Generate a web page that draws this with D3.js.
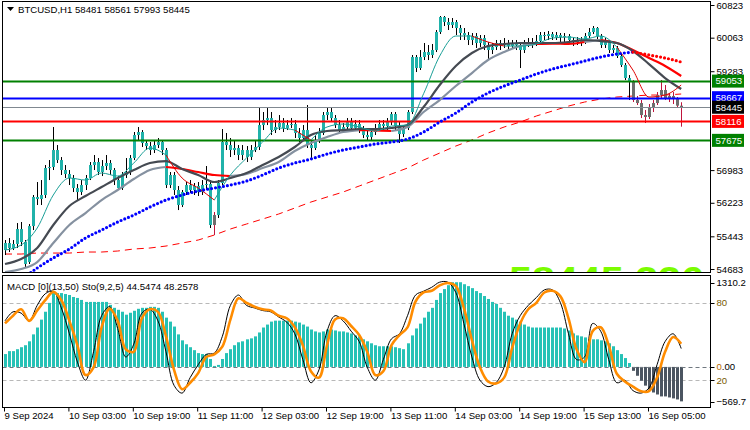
<!DOCTYPE html>
<html><head><meta charset="utf-8">
<script src="https://cdn.jsdelivr.net/npm/d3@7"></script>
<style>
body{margin:0;background:#fff}
svg{display:block}
text{font-family:"Liberation Sans",Arial,sans-serif}
</style>
</head><body>
<svg id="c" width="750" height="430"></svg>
<script>
// ---------------- DATA ----------------
const symbolTitle = "BTCUSD,H1  58481 58561 57993 58445";
const subTitle = "MACD [0](13,50)  Sto(9,2,5) 44.5474 48.2578";

// OHLC per hourly bar: [open, high, low, close]
const candles = [
[55124,55357,55008,55287],[55287,55403,55078,55171],[55171,55357,55124,55264],[55264,55752,55171,55613],[55613,55776,55217,55310],
[55310,55357,54706,54799],[54845,55729,54799,55682],[55682,56404,55589,56357],[56357,56706,56171,56311],[56311,56752,56171,56404],
[56404,57101,56334,57031],[57031,57217,56752,57055],[57055,57985,56985,57450],[57450,57566,57148,57217],[57217,57287,56869,56985],
[56985,57101,56799,56892],[56892,56985,56636,56799],[56799,56869,56473,56566],[56566,56659,56287,56473],[56473,56752,56404,56636],
[56636,56869,56520,56799],[56799,57171,56752,57101],[57101,57334,56985,57171],[57171,57264,56869,56938],[56938,57217,56845,57078],
[57078,57334,56985,57148],[57148,57217,56869,56985],[56985,57031,56636,56752],[56752,56845,56520,56566],[56566,56938,56520,56869],
[56869,57264,56799,56938],[56938,57334,56869,57264],[57264,57869,57217,57799],[57799,57985,57683,57869],[57869,57915,57520,57613],
[57613,57683,57450,57543],[57543,57636,57334,57450],[57450,57683,57380,57566],[57566,57729,57497,57636],[57636,57683,57334,57450],
[57450,57497,56566,56636],[56636,56938,56566,56869],[56869,56938,56404,56520],[56520,56613,56054,56171],[56171,56520,56124,56473],
[56473,56706,56404,56636],[56636,56752,56450,56520],[56520,56683,56404,56613],[56613,56706,56380,56473],[56473,56752,56404,56636],
[56636,57078,56520,56659],[56659,56752,55636,55706],[55706,56008,55473,55938],[55938,56752,55869,56683],[56683,57939,56636,57636],
[57636,57846,57450,57566],[57566,57729,57287,57450],[57450,57683,57334,57497],[57497,57566,57217,57334],[57334,57566,57217,57450],
[57450,57543,57171,57287],[57287,57566,57217,57450],[57450,57683,57403,57520],[57520,58427,57450,58031],[58031,58334,57915,58148],
[58148,58427,58031,58194],[58194,58334,57799,57915],[57915,58148,57846,57985],[57985,58264,57915,58078],[58078,58194,57869,57962],
[57962,58148,57915,58031],[58031,58194,57962,58055],[58055,58148,57729,57846],[57846,57962,57636,57729],[57729,58031,57683,57915],
[57915,58497,57497,57566],[57566,57683,57264,57497],[57497,57799,57450,57683],[57683,57962,57613,57846],[57846,58334,57799,58264],
[58264,58427,58148,58334],[58334,58427,58101,58194],[58194,58264,57962,58031],[58031,58148,57846,57915],[57915,58078,57846,57985],
[57985,58194,57915,58101],[58101,58194,57869,57962],[57962,58148,57915,58055],[58055,58148,57846,57915],[57915,58008,57729,57799],
[57799,57915,57683,57752],[57752,57962,57683,57869],[57869,58055,57799,57962],[57962,58148,57915,58055],[58055,58148,57915,58008],
[58008,58194,57915,58101],[58101,58334,58031,58287],[58287,58334,57915,58008],[58008,58101,57613,57822],[57822,58031,57752,57962],
[57962,58380,57915,58334],[58334,59660,58287,59613],[59613,59660,59264,59357],[59357,59776,59311,59613],[59613,59939,59543,59729],
[59729,59892,59543,59660],[59660,59916,59590,59776],[59776,60241,59729,60195],[60195,60567,60148,60544],[60544,60567,60334,60427],
[60427,60520,60241,60358],[60358,60520,60288,60427],[60427,60474,60125,60288],[60288,60358,60009,60171],[60171,60288,60009,60125],
[60125,60195,59892,60009],[60009,60171,59892,60102],[60102,60171,59823,59939],[59939,60125,59846,60055],[60055,60125,59776,59892],
[59892,59962,59543,59776],[59776,59939,59683,59846],[59846,60009,59776,59939],[59939,60009,59776,59892],[59892,60055,59823,59939],
[59939,60009,59776,59869],[59869,60009,59823,59939],[59939,60009,59776,59892],[59892,59962,59357,59776],[59776,60009,59706,59916],
[59916,60055,59846,59962],[59962,60055,59823,59916],[59916,60125,59869,59985],[59985,60195,59916,60125],[60125,60195,60009,60102],
[60102,60218,60009,60148],[60148,60195,60009,60078],[60078,60195,60009,60125],[60125,60171,59962,60078],[60078,60171,59962,60102],
[60102,60148,59916,60009],[60009,60078,59869,59962],[59962,60078,59892,60009],[60009,60078,59869,59962],[59962,60171,59916,60102],
[60102,60288,60055,60195],[60195,60334,60148,60288],[60288,60311,60032,60102],[60102,60148,59823,59892],[59892,60055,59823,59962],
[59962,60009,59706,59776],[59776,59892,59706,59823],[59823,59869,59590,59636],[59636,59683,59381,59427],[59427,59474,59078,59125],
[59125,59194,58613,59032],[59032,59078,58566,58613],[58613,58706,58497,58543],[58543,58613,58194,58264],[58264,58380,58078,58218],
[58218,58520,58171,58427],[58427,58613,58334,58543],[58543,58799,58497,58729],[58729,59078,58660,58846],[58846,58962,58613,58660],
[58660,58776,58566,58706],[58706,58799,58520,58636],[58636,58683,58427,58481],[58481,58561,57993,58445]
];
// bars drawn in the "weak" colour (gray body, crimson wick)
const weakBars = [52,156,157,158,159,160,161,162,163,164,165,166,167,168];

// moving averages, one value every 4 bars (bar 0,4,...,168)
const maStep = 4;
const fastMA = [55124,55241,55636,56404,56799,56752,56915,56845,57148,57497,
  57334,56799,56566,56287,56869,57264,57636,57962,57915,57683,
  57985,58055,57985,57892,58008,58031,58760,59636,60102,60102,
  59962,59869,59869,59916,60055,60078,60032,60102,59846,59311,
  58683,58729,58962];
const fastTrend = [1,1,1,1,1,1,1,1,1,1, -1,-1,-1,1,1,1,1,1,-1,1, 1,1,1,1,1,1,1,1,1,-1, -1,1,1,1,1,1,1,1,-1,-1, -1,-1,-1];
const darkMA = [54799,54915,55171,55706,56147,56380,56590,56799,56985,57148,
  57194,57008,56869,56706,56799,56915,57101,57287,57520,57799,
  57892,57915,57939,57939,57962,58031,58450,58962,59404,59706,
  59869,59916,59939,59939,59939,59962,60009,59985,59939,59753,
  59450,59125,58869];
const lightMA = [54612,54682,54845,55287,55706,55985,56287,56520,56776,56985,
  57055,57008,56938,56869,56845,56892,57031,57171,57427,57613,
  57752,57869,57915,57904,57892,57985,58334,58613,58939,59241,
  59543,59729,59869,59916,59927,59916,59962,60009,59939,59776,
  59590,59404,59171];
const lightTrend = [1,1,1,1,1,1,1,1,1,1, -1,-1,-1,-1,1,1,1,1,1,1, 1,1,-1,-1,1,1,1,1,1,1, 1,1,1,-1,-1,-1,1,-1,-1,-1, -1,-1,-1];
const dotMA = [54147,54427,54706,54939,55148,55403,55589,55776,55938,56124,
  56287,56404,56497,56566,56636,56729,56869,57031,57148,57241,
  57357,57450,57520,57590,57636,57706,57869,58101,58311,58566,
  58776,58939,59078,59218,59334,59427,59520,59613,59683,59729,
  59660,59590,59497];
const dotTrend = [1,1,1,1,1,1,1,1,1,1, 1,1,1,1,1,1,1,1,1,1, 1,1,1,1,1,1,1,1,1,1, 1,1,1,1,1,1,1,1,1,-1, -1,-1,-1];
const slowMA = [55031,55031,55054,55054,55054,55078,55078,55101,55148,55171,
  55217,55287,55357,55473,55613,55729,55845,55962,56101,56240,
  56357,56473,56613,56752,56892,57031,57217,57380,57543,57683,
  57846,57985,58101,58241,58357,58473,58566,58636,58683,58706,
  58729,58729,58753];

// horizontal levels
const levelValues = [59053, 58667, 58445, 58116, 57675];
const levelNames = ["r2","r1","last","s1","s2"];
// price axis ticks
const priceTicks = [60823, 60063, 59283, 56983, 56223, 55443, 54683];

// MACD histogram (one per bar)
const macdHist = [
187,230,230,258,287,316,373,474,574,689,
804,933,1076,1076,1076,1062,1048,1019,1005,976,
947,947,947,947,947,947,904,861,832,804,
761,789,818,847,861,861,875,875,861,804,
718,660,588,474,387,330,287,244,201,187,
187,115,14,29,115,201,258,316,359,373,
402,416,445,502,574,617,660,674,674,674,
674,674,660,646,617,588,545,517,502,517,
545,545,531,517,517,502,488,459,445,402,
373,344,316,301,301,301,301,287,273,258,
344,459,560,631,718,804,861,976,1076,1134,
1191,1234,1234,1234,1205,1177,1148,1105,1076,1033,
990,947,918,861,804,746,718,689,660,617,
588,574,574,574,574,574,574,574,574,560,
531,488,459,445,430,402,402,402,387,373,
344,301,244,187,129,57,-57,-129,-201,-273,
-330,-373,-402,-430,-430,-445,-459,-474,-502];
const macdMax = 1310.2, macdMin = -569.7;

// Stochastic, one value every 2 bars
const stochStep = 2;
const stochSignal = [64,70,75,66,74,82,88.5,82,66,47,
 24,30,61,75.5,66,44,42,68,75,73,
 54,28,13,18,25.5,38,40,46,67,83.5,
 80,77,75,74,70,68,61,47,27,22,
 47,67,68,62,55,42,24,27,47,55,
 61,81,88,89.3,93.5,95.4,93,76,51,30,
 19,17.5,22,45,64,75,80,88,89.3,85,
 68,44,34,58,61,47,25,19,15,11.5,
 11.5,22,42,53.5,48.26];
const stochMain = [66,73,72,66,78,87,89,76,56,34,
 20,42,70,77,60,38,48,72,75,66,
 42,16,10,22,32,40,41,54,78,86,
 78,76,74,73,69,65,56,36,18,28,
 58,70,66,58,50,30,20,36,52,56,
 70,86,89,92,96,96,88,64,38,20,
 15,18,30,56,70,78,84,90,90,80,
 56,36,38,64,58,36,18,20,12,10,
 14,32,50,56,44.55];
const stochLevels = [80, 20];

// time axis
const timeLabels = ["9 Sep 2024","10 Sep 03:00","10 Sep 19:00","11 Sep 11:00","12 Sep 03:00","12 Sep 19:00","13 Sep 11:00","14 Sep 03:00","14 Sep 19:00","15 Sep 13:00","16 Sep 05:00"];
const timeTickBars = [0,16,32,48,64,80,96,112,128,144,160];

const bigPriceText = "58445.336";

// ---------------- LAYOUT / STYLE ----------------
const svg = d3.select("#c");
const L = 2.5, R = 710.5, mainT = 1.5, mainB = 272.5, subT = 275.5, subB = 407.5;
const COL = {teal:"#20b2aa", hist:"#26c2b6", weak:"#6e6e6e", weakWick:"#c0143c", neg:"#4b5561",
  dark:"#454a52", light:"#8591a0", red:"#ff0000", blue:"#0000ff", green:"#008000", stoch:"#ff8c00"};
const levelColors = {r2:COL.green, r1:COL.blue, last:"#808890", s1:COL.red, s2:COL.green};
const levelLabelBg = {r2:COL.green, r1:COL.blue, last:"#000000", s1:COL.red, s2:COL.green};

const nBars = candles.length;
const x = d3.scaleLinear().domain([0, nBars-1]).range([5, 5 + 4.025*(nBars-1)]);
const y = d3.scaleLinear().domain([54683, 60823]).range([269, 5]);
const yM = d3.scaleLinear().domain([macdMin, macdMax]).range([406, 277]);
const yS = d3.scaleLinear().domain([0, 100]).range([406, 277]);

const defs = svg.append("defs");
defs.append("clipPath").attr("id","clipMain").append("rect").attr("x",L+0.5).attr("y",mainT+0.5).attr("width",R-L-1).attr("height",mainB-mainT-1);
defs.append("clipPath").attr("id","clipSub").append("rect").attr("x",L+0.5).attr("y",subT+0.5).attr("width",R-L-1).attr("height",subB-subT-1);

const gMain = svg.append("g").attr("clip-path","url(#clipMain)");
const gSub = svg.append("g").attr("clip-path","url(#clipSub)");

// big background price text (mostly hidden under the sub-window)
gMain.append("text").attr("x",509).attr("y",293).attr("fill","#7cfc00")
  .attr("font-size",36).attr("font-weight","bold")
  .attr("textLength",195).attr("lengthAdjust","spacingAndGlyphs").text(bigPriceText);

// slow dashed MA
const maPts = arr => arr.map((v,k)=>({i:k*maStep, v, k}));
gMain.append("path").datum(maPts(slowMA))
  .attr("d", d3.line().x(d=>x(d.i)).y(d=>y(d.v)))
  .attr("fill","none").attr("stroke",COL.red).attr("stroke-width",1).attr("stroke-dasharray","7,5");

// candles
const cg = gMain.append("g");
candles.forEach((c,i)=>{
  const [o,h,l,cl] = c;
  const weak = weakBars.includes(i);
  const cx = Math.round(x(i)) + 0.5;
  cg.append("line").attr("x1",cx).attr("x2",cx).attr("y1",y(h)).attr("y2",y(l))
    .attr("stroke", weak?COL.weakWick:"#000").attr("stroke-width",1);
  const top = Math.min(y(o),y(cl)), bot = Math.max(y(o),y(cl));
  cg.append("rect").attr("x",cx-1.5).attr("y",top).attr("width",3).attr("height",Math.max(1,bot-top))
    .attr("fill", weak?COL.weak:COL.teal);
});

// horizontal levels
levelValues.forEach((v,k)=>{
  const nm = levelNames[k];
  gMain.append("line").attr("x1",L).attr("x2",R).attr("y1",Math.round(y(v))+0.5).attr("y2",Math.round(y(v))+0.5)
    .attr("stroke",levelColors[nm]).attr("stroke-width", nm==="last"?1:2);
});

// coloured MA lines, split into runs by trend
function drawTrendLine(vals, trend, upColor, downColor, width, dash, cap){
  const pts = maPts(vals);
  let runs = [], cur = null;
  for (let k=0;k<pts.length-1;k++){
    const col = trend[k] < 0 ? downColor : upColor;
    if (!cur || cur.col !== col){ cur = {col, pts:[pts[k]]}; runs.push(cur); }
    cur.pts.push(pts[k+1]);
  }
  runs.forEach(r=>{
    if (!r.col) return;
    gMain.append("path").datum(r.pts)
      .attr("d", d3.line().x(d=>x(d.i)).y(d=>y(d.v)).curve(d3.curveMonotoneX))
      .attr("fill","none").attr("stroke",r.col).attr("stroke-width",width)
      .attr("stroke-dasharray",dash||null).attr("stroke-linecap",cap||"butt");
  });
}
drawTrendLine(lightMA, lightTrend, COL.light, COL.red, 2.2);
drawTrendLine(darkMA, darkMA.map(()=>1), COL.dark, COL.dark, 2.2);
drawTrendLine(fastMA, fastTrend, "#1a9f97", "#e00000", 1);
drawTrendLine(dotMA, dotTrend, COL.blue, COL.red, 3.2, "0,4.02", "round");

// ---------- sub window ----------
stochLevels.forEach(v=>{
  gSub.append("line").attr("x1",L).attr("x2",R).attr("y1",Math.round(yS(v))+0.5).attr("y2",Math.round(yS(v))+0.5)
    .attr("stroke","#b8b8b8").attr("stroke-dasharray","4,3");
});
macdHist.forEach((v,i)=>{
  const cx = Math.round(x(i)) + 0.5;
  const y0 = yM(0), y1 = yM(v);
  gSub.append("rect").attr("x",cx-1.5).attr("width",3)
    .attr("y",Math.min(y0,y1)).attr("height",Math.max(1,Math.abs(y1-y0)))
    .attr("fill", v>=0?COL.hist:COL.neg);
});
gSub.append("line").attr("x1",L).attr("x2",R).attr("y1",Math.round(yM(0))+0.5).attr("y2",Math.round(yM(0))+0.5)
  .attr("stroke","#707880").attr("stroke-dasharray","4,3");
const stPts = arr => arr.map((v,k)=>({i:k*stochStep, v}));
const stLine = d3.line().x(d=>x(d.i)).y(d=>yS(d.v)).curve(d3.curveCatmullRom.alpha(0.5));
gSub.append("path").datum(stPts(stochMain)).attr("d",stLine).attr("fill","none").attr("stroke","#000").attr("stroke-width",1);
gSub.append("path").datum(stPts(stochSignal)).attr("d",stLine).attr("fill","none").attr("stroke",COL.stoch).attr("stroke-width",2.6);

// ---------- frames ----------
svg.append("rect").attr("x",L).attr("y",mainT).attr("width",R-L).attr("height",mainB-mainT).attr("fill","none").attr("stroke","#000");
svg.append("rect").attr("x",L).attr("y",subT).attr("width",R-L).attr("height",subB-subT).attr("fill","none").attr("stroke","#000");

// ---------- titles ----------
svg.append("path").attr("d","M7,7 L14,7 L10.5,11 Z").attr("fill","#000");
svg.append("text").attr("x",18).attr("y",13).attr("font-size",9.6).attr("fill","#000").text(symbolTitle);
svg.append("text").attr("x",7).attr("y",290).attr("font-size",9.6).attr("fill","#000").text(subTitle);

// ---------- price axis ----------
const axisG = svg.append("g").attr("transform",`translate(${R},0)`);
axisG.call(d3.axisRight(y).tickValues(priceTicks).tickSize(4).tickPadding(2).tickFormat(d3.format("d")));
axisG.select(".domain").remove();
axisG.selectAll("text").attr("font-size",9.6).attr("fill","#000").attr("font-family","Liberation Sans, Arial, sans-serif");
axisG.selectAll("line").attr("stroke","#000");

levelValues.forEach((v,k)=>{
  const nm = levelNames[k];
  const yy = y(v);
  svg.append("rect").attr("x",R+1.5).attr("y",yy-6.5).attr("width",32).attr("height",13).attr("fill",levelLabelBg[nm]);
  svg.append("text").attr("x",R+5).attr("y",yy).attr("dy","0.35em").attr("font-size",9.6).attr("fill","#fff").text(d3.format("d")(v));
});

// ---------- sub axis labels ----------
const subLabels = [
  {t:d3.format(".1f")(macdMax), y:yM(macdMax)+5.5, c:"#000"},
  {t:String(stochLevels[0]), y:yS(stochLevels[0]), c:"#7a5a00"},
  {t:"0.00", y:yM(0), c:"#000"},
  {t:String(stochLevels[1]), y:yS(stochLevels[1]), c:"#7a5a00"},
  {t:d3.format(".1f")(macdMin), y:yM(macdMin)-4, c:"#000"}
];
subLabels.forEach(s=>{
  svg.append("line").attr("x1",R).attr("x2",R+4).attr("y1",Math.round(s.y)+0.5).attr("y2",Math.round(s.y)+0.5).attr("stroke","#000");
  const t = svg.append("text").attr("x",R+6).attr("y",s.y).attr("dy","0.35em").attr("font-size",9.6).attr("fill",s.c);
  if (s.t === "0.00"){
    t.append("tspan").attr("fill","#b86a00").text("0");
    t.append("tspan").text(".00");
  } else t.text(s.t);
});

// ---------- time axis ----------
const tg = svg.append("g").attr("transform",`translate(0,${subB})`);
tg.call(d3.axisBottom(x).tickValues(timeTickBars).tickSize(4).tickFormat((d,k)=>timeLabels[k]));
tg.select(".domain").remove();
tg.selectAll("line").attr("stroke","#000").attr("transform","translate(-1,0)");
tg.selectAll("text").attr("text-anchor","start").attr("x",-1).attr("dy","0.71em").attr("y",5)
  .attr("font-size",9.6).attr("fill","#000").attr("font-family","Liberation Sans, Arial, sans-serif");
</script>
</body></html>
